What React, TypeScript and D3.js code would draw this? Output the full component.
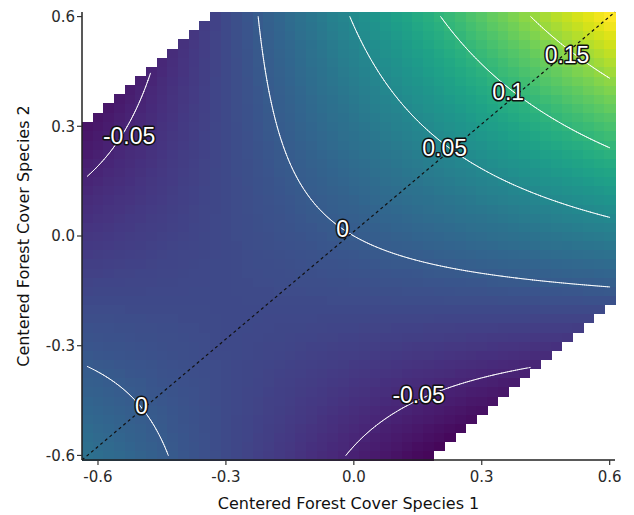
import React from "react";
import * as d3 from "d3";

// ---- data ----
// grid of raster cells (cell centres)
const gridX = [-0.625, 0.6, 0.025]; // start, end, step
const gridY = [-0.6, 0.6, 0.025];
// fitted response surface: value = sum(coef * term)
const surfaceTerms = ["x", "y", "x^2", "y^2", "x*y"];
const surfaceCoefs = [0.058, 0.087, 0.005, 0.0, 0.293];
// data availability limits (max of y - x, max of x - y)
const maskLimits = [0.925, 0.775];
// colour range of the fill scale
const fillRange = [-0.077, 0.194];
// contour lines
const contourLevels = [-0.05, 0, 0.05, 0.1, 0.15];
// contour labels
const labelText = ["-0.05", "0", "0.05", "0.1", "0.15", "-0.05", "0"];
const labelX = [-0.527, -0.026, 0.213, 0.362, 0.5, 0.152, -0.498];
const labelY = [0.275, 0.02, 0.242, 0.395, 0.497, -0.433, -0.463];
// axes
const xTicks = [-0.6, -0.3, 0, 0.3, 0.6];
const yTicks = [-0.6, -0.3, 0, 0.3, 0.6];
const tickLabels = ["-0.6", "-0.3", "0.0", "0.3", "0.6"];
const xTitle = "Centered Forest Cover Species 1";
const yTitle = "Centered Forest Cover Species 2";

const W = 634;
const H = 515;
const M = { left: 82, right: 615, top: 12, bottom: 460 };

function surface(x: number, y: number): number {
  const terms = [x, y, x * x, y * y, x * y];
  return d3.sum(terms, (t, i) => t * surfaceCoefs[i]);
}
function available(x: number, y: number): boolean {
  return y - x <= maskLimits[0] + 1e-9 && x - y <= maskLimits[1] + 1e-9;
}

export default function App() {
  const half = gridX[2] / 2;
  const xs = d3.range(Math.round((gridX[1] - gridX[0]) / gridX[2]) + 1).map((i) => +(gridX[0] + i * gridX[2]).toFixed(4));
  const ys = d3.range(Math.round((gridY[1] - gridY[0]) / gridY[2]) + 1).map((i) => +(gridY[0] + i * gridY[2]).toFixed(4));

  const x = d3.scaleLinear().domain([gridX[0] - half, gridX[1] + half]).range([M.left, M.right]);
  const y = d3.scaleLinear().domain([gridY[0] - half, gridY[1] + half]).range([M.bottom, M.top]);
  const color = d3.scaleSequential(d3.interpolateViridis).domain(fillRange as [number, number]);

  const cells: React.ReactElement[] = [];
  xs.forEach((cx, i) => {
    ys.forEach((cy, j) => {
      if (!available(cx, cy)) return;
      const x0 = x(cx - half);
      const x1 = x(cx + half);
      const y0 = y(cy + half);
      const y1 = y(cy - half);
      cells.push(
        <rect
          key={`c${i}-${j}`}
          x={x0}
          y={y0}
          width={x1 - x0 + 0.6}
          height={y1 - y0 + 0.6}
          fill={color(surface(cx, cy))}
        />
      );
    });
  });

  // marching squares on a fine grid over the cell centres
  const nx = 250;
  const ny = 240;
  const fx = d3.range(nx + 1).map((i) => gridX[0] + ((gridX[1] - gridX[0]) * i) / nx);
  const fy = d3.range(ny + 1).map((j) => gridY[0] + ((gridY[1] - gridY[0]) * j) / ny);
  const vals = fx.map((xx) => fy.map((yy) => surface(xx, yy)));
  const okv = fx.map((xx) => fy.map((yy) => available(xx, yy)));

  const contourPaths = contourLevels.map((lev) => {
    let d = "";
    for (let i = 0; i < nx; i++) {
      for (let j = 0; j < ny; j++) {
        if (!okv[i][j] || !okv[i + 1][j] || !okv[i + 1][j + 1] || !okv[i][j + 1]) continue;
        const P = [
          [fx[i], fy[j], vals[i][j]],
          [fx[i + 1], fy[j], vals[i + 1][j]],
          [fx[i + 1], fy[j + 1], vals[i + 1][j + 1]],
          [fx[i], fy[j + 1], vals[i][j + 1]],
        ];
        const pts: [number, number][] = [];
        for (let k = 0; k < 4; k++) {
          const p = P[k];
          const q = P[(k + 1) % 4];
          if (p[2] < lev !== q[2] < lev) {
            const t = (lev - p[2]) / (q[2] - p[2]);
            pts.push([x(p[0] + t * (q[0] - p[0])), y(p[1] + t * (q[1] - p[1]))]);
          }
        }
        for (let k = 0; k + 1 < pts.length; k += 2) {
          d += `M${pts[k][0].toFixed(2)},${pts[k][1].toFixed(2)}L${pts[k + 1][0].toFixed(2)},${pts[k + 1][1].toFixed(2)}`;
        }
      }
    }
    return d;
  });

  const [dx0, dx1] = x.domain();
  const [dy0, dy1] = y.domain();
  const font = "'DejaVu Sans', sans-serif";

  return (
    <svg
      width={W}
      height={H}
      viewBox={`0 0 ${W} ${H}`}
      style={{ position: "absolute", left: 0, top: 0, display: "block", background: "#fff" }}
    >
      <g shapeRendering="crispEdges">{cells}</g>
      <g fill="none" stroke="#ffffff" strokeWidth={1} strokeLinecap="round" strokeOpacity={0.95}>
        {contourPaths.map((d, i) => (
          <path key={`k${i}`} d={d} />
        ))}
      </g>
      <line
        x1={x(dx0)}
        y1={y(dy0)}
        x2={x(dx1)}
        y2={y(dy1)}
        stroke="#111"
        strokeWidth={1.2}
        strokeDasharray="3,3"
      />
      <g fontFamily="'Liberation Sans', Arial, sans-serif" fontSize={23} textAnchor="middle">
        {labelText.map((t, i) => (
          <text
            key={`l${i}`}
            x={x(labelX[i])}
            y={y(labelY[i])}
            dy="0.36em"
            fill="#fff"
            stroke="#111"
            strokeWidth={3}
            strokeLinejoin="round"
            paintOrder="stroke"
          >
            {t}
          </text>
        ))}
      </g>
      {/* axes */}
      <line x1={M.left} y1={M.bottom} x2={M.right} y2={M.bottom} stroke="#222" strokeWidth={1.5} />
      <line x1={M.left} y1={M.top} x2={M.left} y2={M.bottom} stroke="#222" strokeWidth={1.5} />
      {xTicks.map((t, i) => (
        <g key={`xt${i}`}>
          <line x1={x(t)} x2={x(t)} y1={M.bottom} y2={M.bottom + 5} stroke="#333" strokeWidth={1.2} />
          <text x={x(t)} y={M.bottom + 22} textAnchor="middle" fontFamily={font} fontSize={15} fill="#2a2a2a">
            {tickLabels[i]}
          </text>
        </g>
      ))}
      {yTicks.map((t, i) => (
        <g key={`yt${i}`}>
          <line x1={M.left - 5} x2={M.left} y1={y(t)} y2={y(t)} stroke="#333" strokeWidth={1.2} />
          <text x={M.left - 7} y={y(t)} dy="0.36em" textAnchor="end" fontFamily={font} fontSize={15} fill="#2a2a2a">
            {tickLabels[i]}
          </text>
        </g>
      ))}
      <text x={(M.left + M.right) / 2} y={509} textAnchor="middle" fontFamily={font} fontSize={16} fill="#111">
        {xTitle}
      </text>
      <text
        transform={`translate(29,${(M.top + M.bottom) / 2}) rotate(-90)`}
        textAnchor="middle"
        fontFamily={font}
        fontSize={16}
        fill="#111"
      >
        {yTitle}
      </text>
    </svg>
  );
}
